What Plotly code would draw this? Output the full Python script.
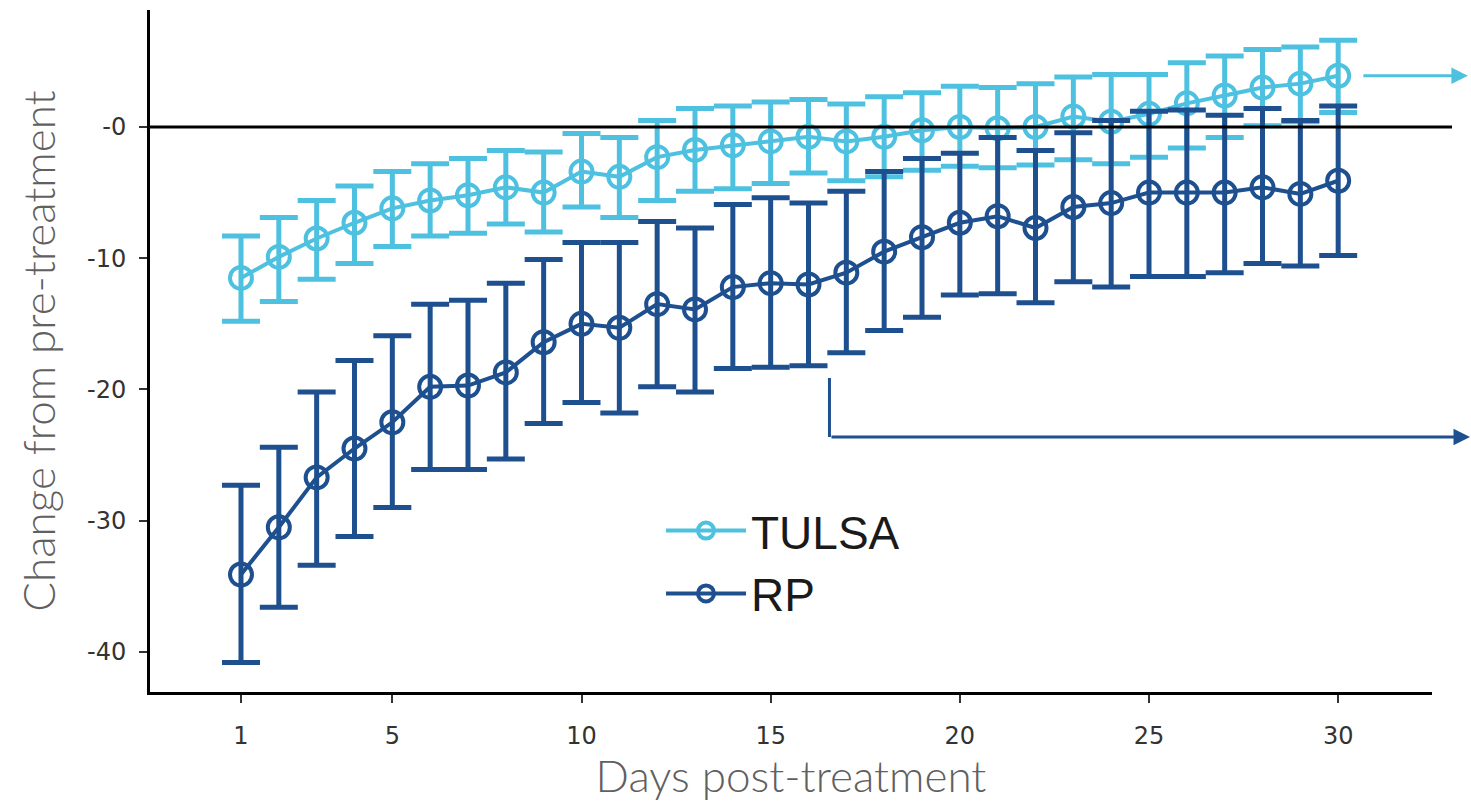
import plotly.graph_objects as go

# Days after treatment
days = list(range(1, 31))

# TULSA: mean change and confidence limits
tulsa_mean = [-11.5, -9.9, -8.5, -7.3, -6.2, -5.6, -5.2, -4.6, -5.0, -3.4,
              -3.8, -2.3, -1.75, -1.4, -1.1, -0.75, -1.1, -0.75, -0.25, 0.0,
              -0.1, 0.0, 0.8, 0.4, 1.0, 1.8, 2.4, 3.0, 3.3, 3.9]
tulsa_hi = [-8.3, -6.9, -5.6, -4.5, -3.4, -2.8, -2.4, -1.8, -1.9, -0.5,
            -0.8, 0.5, 1.4, 1.6, 1.9, 2.1, 1.75, 2.3, 2.6, 3.1,
            3.0, 3.3, 3.8, 4.0, 4.0, 4.9, 5.4, 5.9, 6.1, 6.6]
tulsa_lo = [-14.8, -13.3, -11.6, -10.4, -9.1, -8.3, -8.1, -7.4, -8.0, -6.1,
            -6.9, -5.6, -4.9, -4.7, -4.3, -3.5, -4.1, -3.8, -3.3, -3.0,
            -3.1, -2.9, -2.5, -2.8, -2.3, -1.6, -0.8, 0.1, 0.4, 1.1]

# RP: mean change and confidence limits
rp_mean = [-34.1, -30.5, -26.7, -24.5, -22.5, -19.8, -19.7, -18.7, -16.4, -15.0,
           -15.3, -13.5, -13.9, -12.2, -11.9, -12.0, -11.1, -9.5, -8.4, -7.3,
           -6.8, -7.7, -6.1, -5.8, -5.0, -5.0, -5.0, -4.6, -5.1, -4.1]
rp_hi = [-27.3, -24.4, -20.2, -17.8, -15.9, -13.5, -13.2, -11.9, -10.1, -8.8,
         -8.8, -7.2, -7.7, -5.9, -5.4, -5.8, -4.9, -3.4, -2.4, -2.0,
         -0.8, -1.8, -0.45, 0.5, 1.2, 1.3, 0.9, 1.4, 0.5, 1.6]
rp_lo = [-40.8, -36.6, -33.4, -31.2, -29.0, -26.1, -26.1, -25.3, -22.6, -21.0,
         -21.8, -19.8, -20.2, -18.4, -18.3, -18.2, -17.2, -15.5, -14.5, -12.8,
         -12.7, -13.4, -11.8, -12.2, -11.4, -11.4, -11.1, -10.4, -10.6, -9.8]

x_ticks = [1, 5, 10, 15, 20, 25, 30]
y_ticks = [0, -10, -20, -30, -40]
y_ticktext = ["-0", "-10", "-20", "-30", "-40"]

LIGHT = "#4EC1E0"
DARK = "#1E4F8F"


def series(name, mean, lo, hi, color):
    return go.Scatter(
        x=days, y=mean, name=name, mode="lines+markers",
        line=dict(color=color, width=4),
        marker=dict(symbol="circle-open", size=22, color=color,
                    line=dict(width=4, color=color)),
        error_y=dict(type="data", symmetric=False,
                     array=[h - m for h, m in zip(hi, mean)],
                     arrayminus=[m - l for m, l in zip(mean, lo)],
                     color=color, thickness=5, width=19),
    )


fig = go.Figure()
fig.add_trace(series("TULSA", tulsa_mean, tulsa_lo, tulsa_hi, LIGHT))
fig.add_trace(series("RP", rp_mean, rp_lo, rp_hi, DARK))

# Reference line at zero change
fig.add_shape(type="line", xref="paper", yref="y", x0=0, x1=1.0156, y0=0, y1=0,
              line=dict(color="black", width=3), layer="above")

# Pointer arrows on the right
fig.add_annotation(xref="paper", yref="y", x=1.028, y=tulsa_mean[-1],
                   ax=-106, ay=0, axref="pixel", ayref="pixel", text="",
                   showarrow=True, arrowhead=2, arrowsize=1.1, arrowwidth=3,
                   arrowcolor=LIGHT, standoff=0)
fig.add_shape(type="line", xref="paper", yref="paper", x0=0.530, x1=0.530,
              y0=0.4604, y1=0.3739, line=dict(color=DARK, width=3))
fig.add_annotation(xref="paper", yref="paper", x=1.0304, y=0.3739,
                   ax=-641, ay=0, axref="pixel", ayref="pixel", text="",
                   showarrow=True, arrowhead=2, arrowsize=1.1, arrowwidth=3,
                   arrowcolor=DARK, standoff=0)

title_font = dict(family="Lato", size=44, color="#606060", weight=300)
tick_font = dict(family="DejaVu Sans", size=24, color="#333333")

fig.update_layout(
    width=1471, height=801,
    margin=dict(l=150, r=39, t=10, b=109),
    paper_bgcolor="white", plot_bgcolor="white",
    showlegend=True,
    legend=dict(x=0.3986, y=0.2900, xanchor="left", yanchor="top",
                font=dict(family="Liberation Sans", size=46, color="#1a1a1a"),
                bgcolor="rgba(0,0,0,0)", itemwidth=80),
    xaxis=dict(range=[-1.405, 32.48], tickvals=x_ticks, showgrid=False,
               zeroline=False, showline=True, linecolor="black", linewidth=3,
               ticks="outside", ticklen=8, tickwidth=2, tickcolor="#333333",
               tickfont=tick_font, ticklabelstandoff=12,
               title=dict(text="Days post-treatment", font=title_font, standoff=10)),
    yaxis=dict(range=[-43.05, 8.91], tickvals=y_ticks, ticktext=y_ticktext,
               showgrid=False, zeroline=False, showline=True, linecolor="black",
               linewidth=3, ticks="outside", ticklen=8, tickwidth=2,
               tickcolor="#333333", tickfont=tick_font, ticklabelstandoff=8,
               title=dict(text="Change from pre-treatment", font=title_font,
                          standoff=18)),
)

fig.write_html("out.html")
